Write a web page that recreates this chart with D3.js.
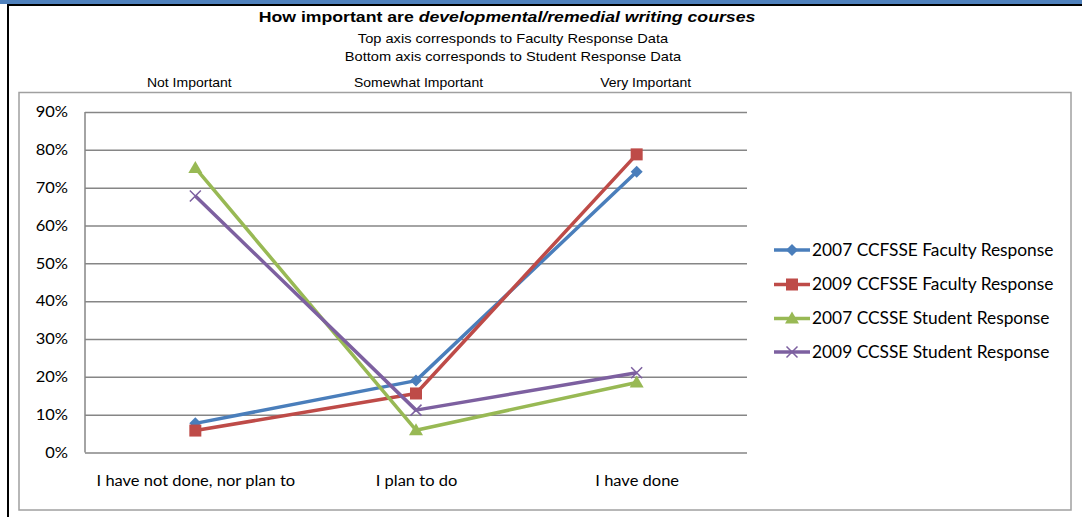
<!DOCTYPE html>
<html><head><meta charset="utf-8">
<script src="https://cdn.jsdelivr.net/npm/d3@7"></script>
<style>body{margin:0;background:#fff}svg{display:block}</style>
</head><body>
<svg id="c" width="1082" height="517"></svg>
<script>
const categories = ["I have not done, nor plan to", "I plan to do", "I have done"];
const topLabels = ["Not Important", "Somewhat Important", "Very Important"];
const seriesNames = ["2007 CCFSSE Faculty Response", "2009 CCFSSE Faculty Response", "2007 CCSSE Student Response", "2009 CCSSE Student Response"];
const faculty2007 = [0.077, 0.19, 0.742];
const faculty2009 = [0.058, 0.156, 0.788];
const student2007 = [0.752, 0.059, 0.185];
const student2009 = [0.678, 0.112, 0.211];
const yTicks = [0, 0.1, 0.2, 0.3, 0.4, 0.5, 0.6, 0.7, 0.8, 0.9];
const colors = ["#4a7ebb", "#be4b48", "#98b954", "#7d60a0"];
const markers = ["diamond", "square", "triangle", "cross"];
const series = [faculty2007, faculty2009, student2007, student2009];

const svg = d3.select("#c");

// horizontally stretch text around its anchor point
function stretch(sel, sx) {
  sel.each(function() {
    const el = d3.select(this);
    const tx = +el.attr("x") || 0, ty = +el.attr("y") || 0;
    el.attr("x", 0).attr("y", 0).attr("transform", `translate(${tx},${ty}) scale(${sx},1)`);
  });
}

// frame
svg.append("rect").attr("x",0).attr("y",0).attr("width",1082).attr("height",4).attr("fill","#4f81bd");
svg.append("line").attr("x1",7).attr("x2",1082).attr("y1",5).attr("y2",5).attr("stroke","#000").attr("stroke-width",2);
svg.append("line").attr("x1",8).attr("x2",8).attr("y1",4).attr("y2",517).attr("stroke","#000").attr("stroke-width",2);
// chart area box
svg.append("rect").attr("x",19).attr("y",92.5).attr("width",1052).attr("height",417.5).attr("fill","none").attr("stroke","#a0a0a0").attr("stroke-width",1.5);

// titles
const t = svg.append("text").attr("x",507).attr("y",22).attr("text-anchor","middle")
  .attr("font-family","Liberation Sans, Arial, sans-serif").attr("font-size",15.5).attr("font-weight","bold");
t.append("tspan").text("How important are ");
t.append("tspan").attr("font-style","italic").text("developmental/remedial writing courses");
stretch(t, 1.14);
const s1 = svg.append("text").attr("x",513).attr("y",43).attr("text-anchor","middle")
  .attr("font-family","Liberation Sans, Arial, sans-serif").attr("font-size",12.5).text("Top axis corresponds to Faculty Response Data");
const s2 = svg.append("text").attr("x",513).attr("y",61).attr("text-anchor","middle")
  .attr("font-family","Liberation Sans, Arial, sans-serif").attr("font-size",12.5).text("Bottom axis corresponds to Student Response Data");
stretch(s1, 1.17); stretch(s2, 1.17);

const pLeft = 85, pRight = 747, pTop = 112, pBottom = 452.5;
const x = d3.scalePoint().domain(categories).range([pLeft, pRight]).padding(0.5);
const y = d3.scaleLinear().domain([0, 0.9]).range([pBottom, pTop]);

// top labels
const xTop = d3.scalePoint().domain(topLabels).range([pLeft, pRight]).padding(0.5);
const topShift = [-6, 2.5, 9];
const tl = svg.append("g").selectAll("text").data(topLabels).join("text")
  .attr("x", (d,i) => xTop(d) + topShift[i]).attr("y", 87).attr("text-anchor","middle")
  .attr("font-family","Liberation Sans, Arial, sans-serif").attr("font-size",12.5).text(d => d);
stretch(tl, 1.12);

// gridlines
const yAxis = d3.axisLeft(y).tickValues(yTicks).tickFormat(d3.format(".0%")).tickSize(-(pRight-pLeft)).tickPadding(17);
const gy = svg.append("g").attr("transform",`translate(${pLeft},0)`).call(yAxis);
gy.select(".domain").remove();
gy.selectAll(".tick line").attr("stroke","#868686").attr("stroke-width",1.5);
const yt = gy.selectAll(".tick text").attr("font-family","Lato, sans-serif").attr("font-size",15).attr("fill","#000");
stretch(yt, 1.1);
svg.append("line").attr("x1",pLeft).attr("x2",pLeft).attr("y1",pTop).attr("y2",pBottom).attr("stroke","#868686").attr("stroke-width",1.5);

// bottom axis labels
const xAxis = d3.axisBottom(x).tickSize(0).tickPadding(23);
const gx = svg.append("g").attr("transform",`translate(0,${pBottom})`).call(xAxis);
gx.select(".domain").remove();
const xt = gx.selectAll(".tick text").attr("font-family","Lato, sans-serif").attr("font-size",15).attr("fill","#000");
stretch(xt, 1.1);

function marker(g, type, color, cx, cy) {
  if (type === "diamond") {
    g.append("path").attr("d", `M${cx},${cy-6}L${cx+6},${cy}L${cx},${cy+6}L${cx-6},${cy}Z`).attr("fill", color);
  } else if (type === "square") {
    g.append("rect").attr("x", cx-6).attr("y", cy-6).attr("width",12).attr("height",12).attr("fill", color);
  } else if (type === "triangle") {
    g.append("path").attr("d", `M${cx},${cy-7}L${cx+7},${cy+5}L${cx-7},${cy+5}Z`).attr("fill", color);
  } else {
    g.append("path").attr("d", `M${cx-5.5},${cy-5.5}L${cx+5.5},${cy+5.5}M${cx+5.5},${cy-5.5}L${cx-5.5},${cy+5.5}`)
      .attr("stroke", color).attr("stroke-width",1.5).attr("fill","none");
  }
}

const line = d3.line().x((d,i) => x(categories[i])).y(d => y(d));
series.forEach((s, k) => {
  const g = svg.append("g");
  g.append("path").datum(s).attr("d", line).attr("fill","none").attr("stroke", colors[k]).attr("stroke-width",3.5).attr("stroke-linejoin","round");
  s.forEach((v,i) => marker(g, markers[k], colors[k], x(categories[i]), y(v)));
});

// legend
const legendY = [250, 284.5, 318.5, 352];
seriesNames.forEach((n, k) => {
  const g = svg.append("g");
  g.append("line").attr("x1",774).attr("x2",810).attr("y1",legendY[k]).attr("y2",legendY[k]).attr("stroke",colors[k]).attr("stroke-width",3.5);
  marker(g, markers[k], colors[k], 792, legendY[k]);
  const lt = g.append("text").attr("x",812).attr("y",legendY[k]).attr("dy","0.35em").attr("font-family","Lato, sans-serif").attr("font-size",17).text(n);
  stretch(lt, 1.02);
});
</script>
</body></html>
